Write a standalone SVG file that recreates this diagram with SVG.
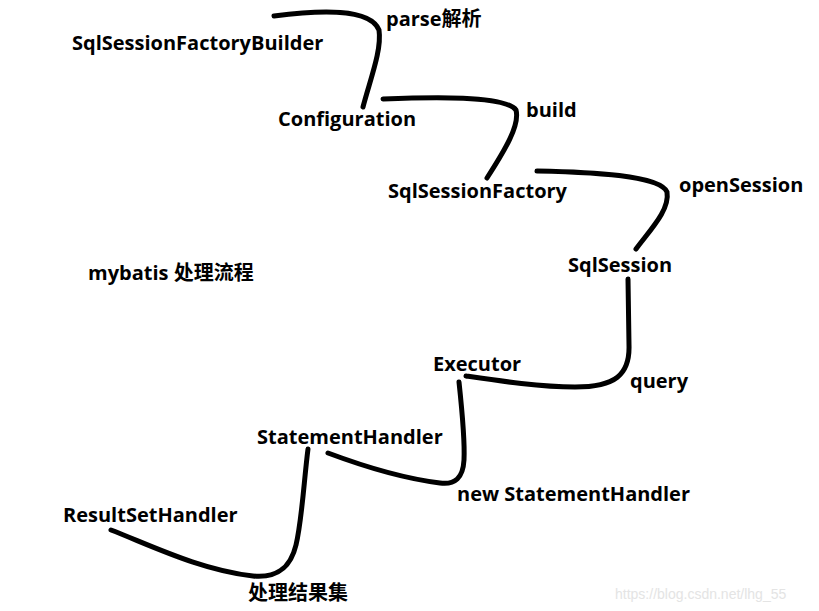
<svg xmlns="http://www.w3.org/2000/svg" width="819" height="611" viewBox="0 0 819 611">
<style>
.t{font-family:"Open Sans","Noto Sans CJK SC",sans-serif;font-weight:bold;font-size:20px;fill:#000}
.c{fill:none;stroke:#000;stroke-width:5;stroke-linecap:round;stroke-linejoin:round}
.w{font-family:"Liberation Sans",sans-serif;font-size:14px;fill:#e4e4e4}
</style>
<rect width="819" height="611" fill="#fff"/>
<g id="connectors">
<path class="c" d="M274,16 C320,10 370,8 379,30 C382,50 370,80 363,107"/>
<path class="c" d="M383,99 C430,97 505,95 516,110 C520,125 505,150 487,178"/>
<path class="c" d="M537,171 C590,172 660,175 667,192 C670,210 650,230 636,249"/>
<path class="c" d="M628,279 L629,345 C630,375 615,387 575,387 C540,387 500,381 466,376"/>
<path class="c" d="M459,382 C462,410 465,440 464,460 C463,478 455,485 440,483 C400,478 360,465 328,453"/>
<path class="c" d="M308,449 C304,480 302,520 296,545 C290,570 275,578 253,576 C200,570 150,545 111,530"/>
</g>
<g id="builder"><text class="t" x="72" y="50">SqlSessionFactoryBuilder</text></g>
<g id="parse"><text class="t" x="386" y="26">parse解析</text></g>
<g id="configuration"><text class="t" x="278" y="126">Configuration</text></g>
<g id="build"><text class="t" x="526" y="117">build</text></g>
<g id="factory"><text class="t" x="388" y="198">SqlSessionFactory</text></g>
<g id="opensession"><text class="t" x="679" y="192">openSession</text></g>
<g id="sqlsession"><text class="t" x="568" y="272">SqlSession</text></g>
<g id="title"><text class="t" x="88" y="280">mybatis 处理流程</text></g>
<g id="executor"><text class="t" x="433" y="371">Executor</text></g>
<g id="query"><text class="t" x="630" y="388">query</text></g>
<g id="statementhandler"><text class="t" x="257" y="444">StatementHandler</text></g>
<g id="newsh"><text class="t" x="457" y="501">new StatementHandler</text></g>
<g id="resultsethandler"><text class="t" x="63" y="522">ResultSetHandler</text></g>
<g id="result"><text class="t" x="248" y="600">处理结果集</text></g>
<text class="w" x="615" y="599">https://blog.csdn.net/lhg_55</text>
</svg>
